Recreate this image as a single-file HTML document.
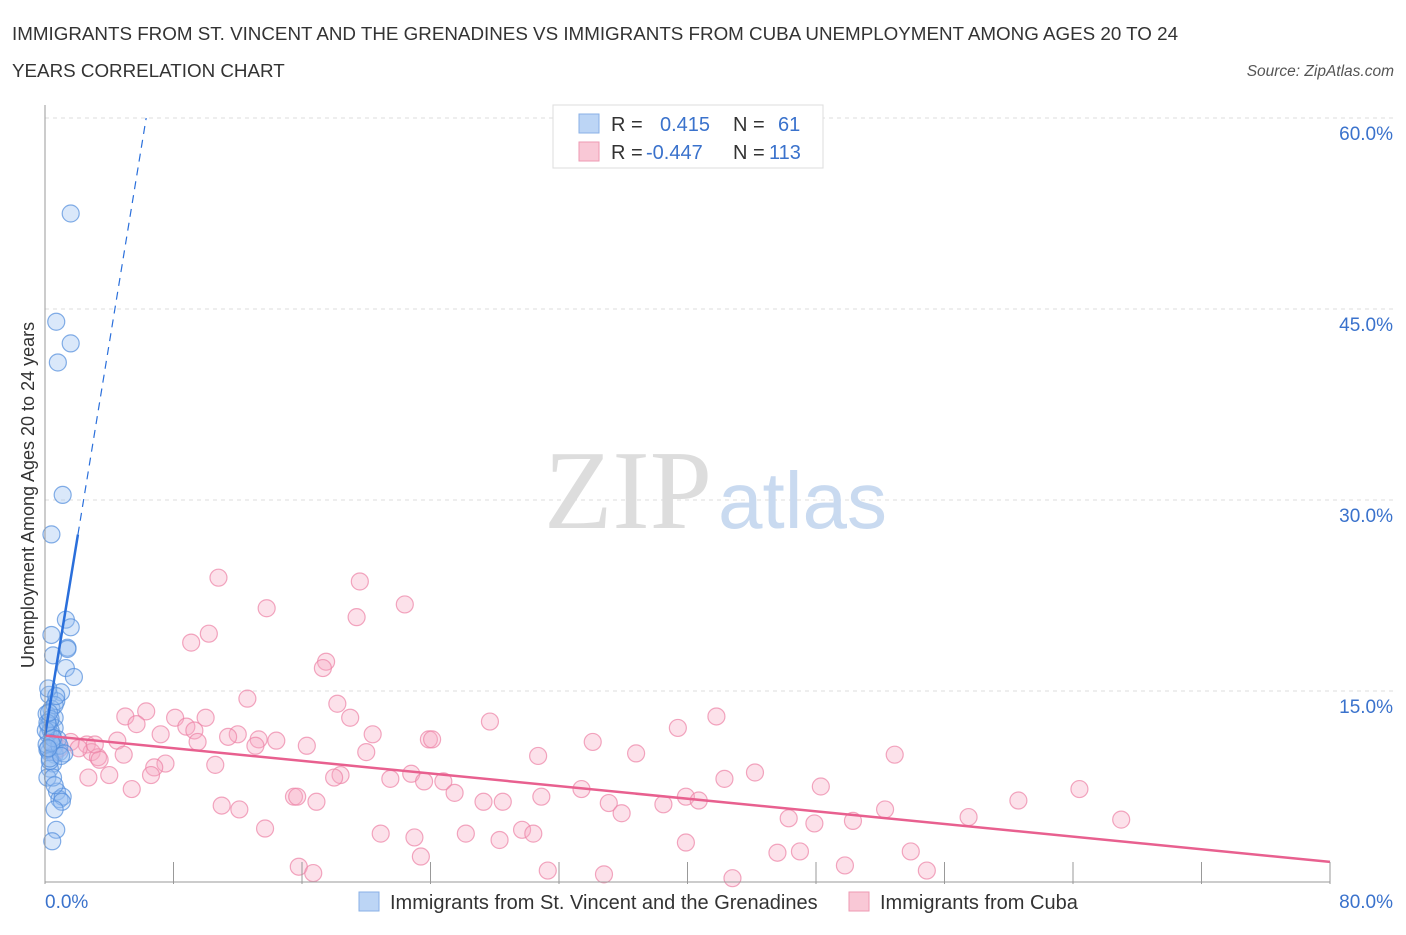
<!DOCTYPE html>
<html><head><meta charset="utf-8"><style>
body{margin:0;background:#fff;font-family:"Liberation Sans",sans-serif;}
svg text{font-family:"Liberation Sans",sans-serif;}
</style></head><body>
<svg id="chart" width="1406" height="930">
<text x="12" y="40" font-size="18.8" fill="#333">IMMIGRANTS FROM ST. VINCENT AND THE GRENADINES VS IMMIGRANTS FROM CUBA UNEMPLOYMENT AMONG AGES 20 TO 24</text>
<text x="12" y="77" font-size="18.8" fill="#333">YEARS CORRELATION CHART</text>
<text x="1394" y="76" font-size="15.5" fill="#555" font-style="italic" text-anchor="end">Source: ZipAtlas.com</text>
<text transform="translate(34,495) rotate(-90)" font-size="18" fill="#333" text-anchor="middle">Unemployment Among Ages 20 to 24 years</text>
<g id="grid"></g>
<g>
<text x="712" y="528" font-size="112" fill="#ddd" text-anchor="end" style="font-family:'Liberation Serif',serif">ZIP</text>
<text x="718" y="528" font-size="80" fill="#c9daf0">atlas</text></g>
<g id="pts"></g>
<g id="lines"></g>
<g id="axes"></g>
<g>
<rect x="553" y="105" width="270" height="63" fill="#fff" stroke="#ddd"/>
<rect x="579" y="114" width="20" height="19" fill="#bcd5f5" stroke="#8ab0e6"/>
<rect x="579" y="142" width="20" height="19" fill="#f9c8d6" stroke="#ee9ab3"/>
<text x="611" y="131" font-size="20" fill="#333">R =</text>
<text x="660" y="131" font-size="20" fill="#3a72cc">0.415</text>
<text x="733" y="131" font-size="20" fill="#333">N =</text>
<text x="778" y="131" font-size="20" fill="#3a72cc">61</text>
<text x="611" y="159" font-size="20" fill="#333">R =</text>
<text x="646" y="159" font-size="20" fill="#3a72cc">-0.447</text>
<text x="733" y="159" font-size="20" fill="#333">N =</text>
<text x="769" y="159" font-size="20" fill="#3a72cc">113</text>
</g>
<g>
<rect x="359" y="892" width="20" height="19" fill="#bcd5f5" stroke="#8ab0e6"/>
<text x="390" y="909" font-size="20" fill="#333">Immigrants from St. Vincent and the Grenadines</text>
<rect x="849" y="892" width="20" height="19" fill="#f9c8d6" stroke="#ee9ab3"/>
<text x="880" y="909" font-size="20" fill="#333">Immigrants from Cuba</text>
</g>
</svg>
<script>
const yTicks=[15,30,45,60];
const yTickLabels=["15.0%","30.0%","45.0%","60.0%"];
const xTickLabels=["0.0%","80.0%"];
const blueX=[1.6,0.7,1.6,0.8,1.1,0.4,1.3,1.6,0.4,1.4,0.5,1.3,1.8,1.0,0.25,0.7,0.4,0.6,0.3,0.6,0.2,0.45,0.55,0.25,0.6,0.9,0.5,0.3,0.75,0.9,1.1,1.05,0.6,0.7,0.45,0.1,0.2,0.45,0.15,0.3,0.15,0.5,0.35,0.8,0.1,1.4,0.2,0.6,0.35,0.05,0.9,1.2,0.3,0.5,0.15,0.7,0.25,0.4,1.0,0.6,0.2];
const blueY=[52.5,44,42.3,40.8,30.4,27.3,20.6,20,19.4,18.4,17.8,16.8,16.1,14.9,14.7,14.2,13.6,12.9,12.6,12.1,11.6,11,10.6,10.2,10,10.2,9.3,8.9,7.1,6.5,6.7,6.3,5.7,4.1,3.2,13.2,12.3,11.5,10.4,9.5,8.2,8.2,11.9,11.2,10.8,18.3,15.2,13.9,12.8,11.9,10.7,10.1,9.7,11.3,12.5,14.6,13.3,10.9,9.9,7.6,10.5];
const pinkX=[10.8,19.6,22.4,13.8,19.4,10.2,9.1,17.5,17.3,12.6,18.2,6.3,8.1,5.0,27.7,41.8,39.4,19.0,20.4,10.0,8.8,9.3,5.7,7.2,12.0,11.4,13.3,14.4,13.1,4.5,9.5,23.9,24.1,34.1,16.3,20.0,30.7,36.8,52.9,2.6,0.9,2.9,3.3,4.9,7.5,3.4,10.6,6.8,6.6,4.0,2.7,18.4,18.0,21.5,22.8,23.6,24.8,25.5,42.3,44.2,48.3,64.4,33.4,5.4,15.5,15.7,16.9,27.3,28.5,30.9,35.1,38.5,39.9,40.7,11.0,12.1,35.9,52.3,60.6,57.5,46.3,47.9,50.3,67.0,13.7,20.9,23.0,26.2,29.7,30.4,28.3,39.9,23.4,45.6,47.0,53.9,49.8,15.8,16.7,31.3,34.8,42.8,54.9,1.6,2.1,0.6,3.1];
const pinkY=[23.9,23.6,21.8,21.5,20.8,19.5,18.8,17.3,16.8,14.4,14.0,13.4,12.9,13.0,12.6,13.0,12.1,12.9,11.6,12.9,12.2,11.9,12.4,11.6,11.6,11.4,11.2,11.1,10.7,11.1,11.0,11.2,11.2,11.0,10.7,10.2,9.9,10.1,10.0,10.8,10.5,10.2,9.8,10.0,9.3,9.6,9.2,9.0,8.4,8.4,8.2,8.4,8.2,8.1,8.5,7.9,7.9,7.0,8.1,8.6,7.5,7.3,7.3,7.3,6.7,6.7,6.3,6.3,6.3,6.7,6.2,6.1,6.7,6.4,6.0,5.7,5.4,5.7,6.4,5.1,5.0,4.6,4.8,4.9,4.2,3.8,3.5,3.8,4.1,3.8,3.3,3.1,2.0,2.3,2.4,2.4,1.3,1.2,0.7,0.9,0.6,0.3,0.9,11.0,10.5,10.2,10.8];
const blueTrend=[11.5,7.7];
const pinkTrend=[11.5,-0.124];
const NS="http://www.w3.org/2000/svg";
function xs(v){return 45+v*(1330-45)/80;}
function ys(v){return 882-v*(882-118)/60;}
function mk(t,a,p){const e=document.createElementNS(NS,t);for(const k in a)e.setAttribute(k,a[k]);p.appendChild(e);return e;}
const grid=document.getElementById('grid');
yTicks.forEach((t,i)=>{
 const l=mk('line',{x1:45,x2:1393,y1:ys(t),y2:ys(t),stroke:'#ddd','stroke-dasharray':'4,4'},grid);
 
 
 const tx=mk('text',{x:1393,y:ys(t)+22,'font-size':19,fill:'#3a72cc','text-anchor':'end'},grid);
 tx.textContent=yTickLabels[i];
 
 
});
const axes=document.getElementById('axes');
mk('line',{x1:45,x2:45,y1:105,y2:882,stroke:'#999'},axes);
const xa=mk('line',{x1:45,x2:1330,y1:882,y2:882,stroke:'#999'},axes);


for(let v=0;v<=80;v+=8){
 const t=mk('line',{x1:xs(v),x2:xs(v),y1:862,y2:884,stroke:'#999'},axes);
 
 
}
[[0,'start',45],[80,'end',1393]].forEach((d,i)=>{
 const t=mk('text',{x:d[2],y:908,'font-size':19,fill:'#3a72cc','text-anchor':d[1]},axes);
 t.textContent=xTickLabels[i];
 
 
});
const pts=document.getElementById('pts');
pinkX.forEach((x,i)=>{
 const c=mk('circle',{cx:xs(x),cy:ys(pinkY[i]),r:8.5,fill:'rgba(246,170,195,0.35)',stroke:'rgba(236,130,165,0.7)','stroke-width':1.2},pts);
 
 
});
blueX.forEach((x,i)=>{
 const c=mk('circle',{cx:xs(x),cy:ys(blueY[i]),r:8.5,fill:'rgba(150,190,240,0.35)',stroke:'rgba(80,140,220,0.7)','stroke-width':1.2},pts);
 
 
});
const lines=document.getElementById('lines');
const pl=mk('line',{x1:xs(0),y1:ys(pinkTrend[0]),x2:xs(80),y2:ys(pinkTrend[0]+80*pinkTrend[1]),stroke:'#e8608f','stroke-width':2.5},lines);


const bx=2.05, bxe=(60-blueTrend[0])/blueTrend[1];
const bl=mk('line',{x1:xs(0),y1:ys(blueTrend[0]),x2:xs(bx),y2:ys(blueTrend[0]+bx*blueTrend[1]),stroke:'#2a6fdb','stroke-width':2.5},lines);


const bd=mk('line',{x1:xs(bx),y1:ys(blueTrend[0]+bx*blueTrend[1]),x2:xs(bxe),y2:ys(60),stroke:'#2a6fdb','stroke-width':1.2,'stroke-dasharray':'8,6'},lines);


</script>
</body></html>
